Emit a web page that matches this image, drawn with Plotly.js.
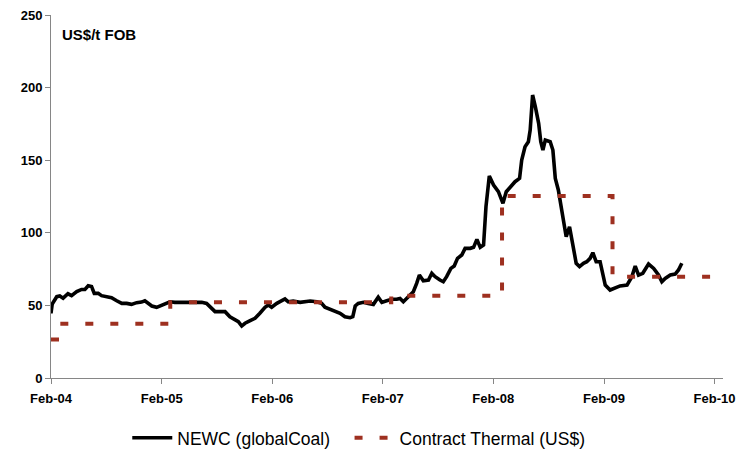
<!DOCTYPE html>
<html>
<head>
<meta charset="utf-8">
<script src="https://cdn.plot.ly/plotly-3.0.1.min.js"></script>
<style>html,body{margin:0;padding:0;background:#fff;}#chart{width:744px;height:450px;}</style>
</head>
<body>
<div id="chart"></div>
<script>
// NEWC (globalCoal) spot price, US$/t FOB
var newcDates = [
  "2004-02-01","2004-02-05","2004-02-20","2004-03-01","2004-03-12","2004-03-28","2004-04-09","2004-04-26",
  "2004-05-12","2004-05-23","2004-06-03","2004-06-14","2004-06-23","2004-07-06","2004-07-17","2004-08-03",
  "2004-08-19","2004-09-05","2004-09-22","2004-10-08","2004-10-24","2004-11-10","2004-11-26","2004-12-07",
  "2004-12-18","2004-12-30","2005-01-15","2005-01-26","2005-02-11","2005-02-28","2005-03-16","2005-04-18",
  "2005-06-13","2005-06-29","2005-07-16","2005-07-27","2005-08-18","2005-08-29","2005-09-14","2005-10-01",
  "2005-10-12","2005-10-23","2005-11-03","2005-11-20","2005-12-06","2005-12-22","2006-01-08","2006-01-19",
  "2006-01-30","2006-02-16","2006-03-04","2006-03-15","2006-03-26","2006-04-11","2006-05-04","2006-05-20",
  "2006-06-06","2006-06-28","2006-07-14","2006-07-25","2006-08-11","2006-08-27","2006-09-13","2006-09-29",
  "2006-10-16","2006-10-25","2006-11-02","2006-11-12","2006-11-29","2006-12-15","2007-01-01","2007-01-17",
  "2007-01-29","2007-02-14","2007-03-03","2007-03-19","2007-03-30","2007-04-10","2007-04-27","2007-05-13",
  "2007-05-24","2007-06-02","2007-06-15","2007-07-02","2007-07-13","2007-07-24","2007-08-09","2007-08-20",
  "2007-08-31","2007-09-14","2007-09-25","2007-10-06","2007-10-20","2007-10-31","2007-11-17","2007-11-28",
  "2007-12-09","2007-12-20","2007-12-31","2008-01-08","2008-01-19","2008-02-02","2008-02-18","2008-03-04",
  "2008-03-15","2008-03-28","2008-04-13","2008-04-28","2008-05-05","2008-05-16","2008-05-27","2008-06-02",
  "2008-06-10","2008-06-19","2008-06-30","2008-07-07","2008-07-14","2008-07-22","2008-08-07","2008-08-16",
  "2008-08-24","2008-09-03","2008-09-15","2008-09-29","2008-10-10","2008-10-21","2008-11-01","2008-11-12",
  "2008-11-25","2008-12-06","2008-12-17","2008-12-26","2009-01-06","2009-01-19","2009-01-28","2009-02-05",
  "2009-02-21","2009-03-10","2009-03-26","2009-04-18","2009-05-04","2009-05-15","2009-05-26","2009-06-09",
  "2009-06-28","2009-07-15","2009-07-31","2009-08-11","2009-08-22","2009-09-08","2009-09-24","2009-10-05",
  "2009-10-16"
];
var newcValues = [
  44.5,51,56,56.5,55,58,56.7,59.5,
  61,61,63.5,63,58.3,58.3,56.7,56,
  55.3,53.2,51.4,51.4,50.7,51.9,52.3,53.2,
  51.4,49.6,48.7,49.6,51.4,52.5,52.1,52.1,
  52.1,51.4,48,45.7,45.7,45.7,42.2,40.4,
  38.8,35.8,37.7,39.5,41.1,44.6,48.7,50.3,
  48.7,51.4,53.2,54.4,52.5,53,52.1,52.5,
  53,52.5,51.4,48.7,47.3,46.3,44.6,42.2,
  41.5,42.2,49.6,51.4,52.1,51.4,50.7,55.6,
  52.1,53.2,54.2,54.2,54.8,52.5,56,59.4,
  65.2,70.9,67,67.5,72.1,69.8,67.5,66.3,
  69.8,75.5,77.1,82.4,84.7,89.3,89.3,90,
  95.5,90,91.6,118,139.1,132.9,128.3,120.3,
  128.3,131.7,135.2,137.5,150.1,159.3,162.7,170.8,
  194.9,186.9,175.4,162.7,157,163.9,162.7,157,
  137.5,129.5,114.5,97.3,104.2,92.8,79,76.7,
  79,80.1,82.4,86.3,80.1,80.1,72.1,64,
  60.6,61.8,63.4,64,69.8,77.1,70.9,72.1,
  78.5,75.5,70.9,66.3,68.6,70.9,71.6,74.4,
  79
];
// Contract Thermal (US$) step prices
var contractDates = ["2004-02-01","2004-03-01","2005-03-01","2007-03-01","2008-03-01","2009-03-01","2010-03-01"];
var contractValues = [26.6, 37.4, 52.1, 56.7, 125.3, 69.8, 69.8];

var seriesNames = ["NEWC (globalCoal)", "Contract Thermal (US$)"];
var unitLabel = "US$/t FOB";
var xRange = ["2004-02-01", "2010-03-01"];

var font = "Liberation Sans, Arial, sans-serif";
var traces = [
  {x: newcDates, y: newcValues, type: "scatter", mode: "lines", name: seriesNames[0] + "\u00a0\u00a0\u00a0",
   line: {color: "#000000", width: 3.6}},
  {x: contractDates, y: contractValues, type: "scatter", mode: "lines", name: seriesNames[1],
   line: {color: "#9e3020", width: 4, dash: "8px,17px", shape: "hv"}}
];
var layout = {
  width: 744, height: 450,
  margin: {l: 51, r: 21, t: 15, b: 72},
  paper_bgcolor: "#ffffff", plot_bgcolor: "#ffffff",
  showlegend: true,
  legend: {orientation: "h", x: 0.458, xanchor: "center", yref: "container", y: 0.027, yanchor: "middle",
           font: {family: font, size: 17.5, color: "#000"}, itemwidth: 40},
  xaxis: {type: "date", range: xRange, tick0: "2004-02-01", dtick: "M12", tickformat: "%b-%y",
          showgrid: false, zeroline: false, showline: true, linecolor: "#868686", linewidth: 1,
          ticks: "outside", ticklen: 5, tickcolor: "#868686", ticklabelstandoff: 3, automargin: false,
          tickfont: {family: font, size: 13, color: "#000", weight: "bold"}},
  yaxis: {range: [0, 250], dtick: 50, showgrid: false, zeroline: false, showline: true, automargin: false,
          linecolor: "#868686", linewidth: 1, ticks: "outside", ticklen: 5, tickcolor: "#868686",
          ticklabelstandoff: 1.5,
          tickfont: {family: font, size: 13, color: "#000", weight: "bold"}},
  annotations: [{text: "<b>" + unitLabel + "</b>", xref: "paper", yref: "paper", x: 0.0134, y: 0.945,
                 xanchor: "left", yanchor: "middle", showarrow: false,
                 font: {family: font, size: 15, color: "#000"}}]
};
Plotly.newPlot("chart", traces, layout, {staticPlot: true});
</script>
</body>
</html>
